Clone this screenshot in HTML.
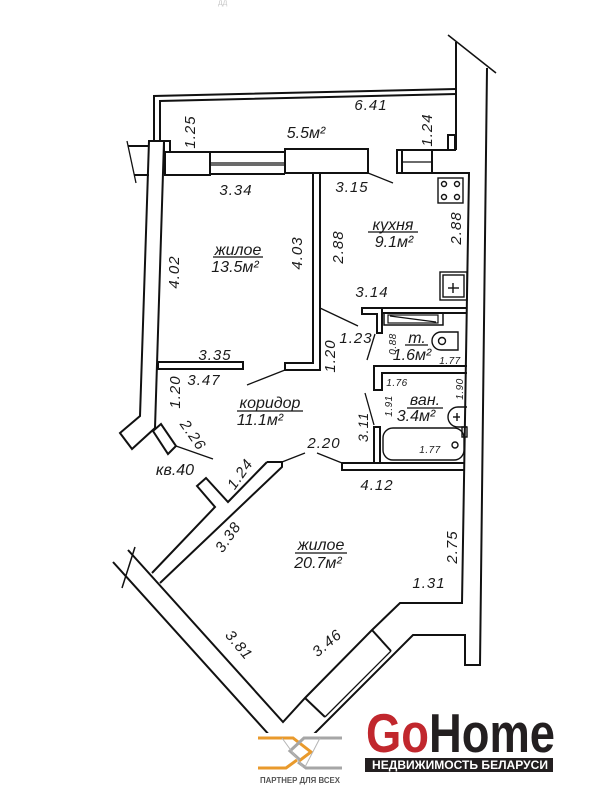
<!DOCTYPE html>
<html><head><meta charset="utf-8"><style>
html,body{margin:0;padding:0;background:#fff;}
svg{display:block;}
.d{font-family:"Liberation Sans","DejaVu Sans",sans-serif;font-style:italic;font-size:15px;letter-spacing:1px;fill:#1a1a1a;}
.s{font-family:"Liberation Sans","DejaVu Sans",sans-serif;font-style:italic;font-size:10px;letter-spacing:.5px;fill:#1a1a1a;}
.r{font-family:"Liberation Sans","DejaVu Sans",sans-serif;font-style:italic;font-size:16px;fill:#1a1a1a;}
</style></head><body>
<svg width="600" height="800" viewBox="0 0 600 800" xmlns="http://www.w3.org/2000/svg">
<rect width="600" height="800" fill="#fff"/>
<text x="218" y="5" font-family="Liberation Sans" font-size="8" fill="#c8c8c8">дд</text>
<g fill="none" stroke="#111" stroke-width="2" stroke-linejoin="miter">
 <!-- balcony -->
 <polyline points="154,141 154,96 456,89"/>
 <polyline points="160,141 160,101 456,94"/>
 <rect x="164" y="141" width="6" height="11"/>
 <rect x="448" y="135" width="7" height="15"/>
 <!-- right wall -->
 <line x1="456" y1="42" x2="456" y2="150"/>
 <line x1="448" y1="35" x2="496" y2="73" stroke-width="1.5"/>
 <polyline points="456,150 432,150 432,173 469,173 462,603 400,603 372,630 305,698 283,722 128,550"/>
 <polyline points="487,68 480,665 465,665 465,635 413,635 290,758"/>
 <line x1="113" y1="562" x2="290" y2="758"/>
 <line x1="135" y1="547" x2="122" y2="588" stroke-width="1.5"/>
 <!-- top wall with windows -->
 <rect x="165" y="152" width="45" height="23"/>
 <line x1="210" y1="152" x2="285" y2="152"/>
 <line x1="210" y1="163" x2="285" y2="163" stroke-width="1.2"/>
 <line x1="210" y1="165" x2="285" y2="165" stroke-width="1.2"/>
 <line x1="210" y1="174" x2="285" y2="174"/>
 <rect x="285" y="149" width="83" height="24"/>
 <rect x="397" y="150" width="5" height="23"/>
 <rect x="402" y="150" width="30" height="23"/>
 <line x1="402" y1="162" x2="432" y2="162" stroke-width="1.2"/>
 <!-- left wall -->
 <polygon points="149,141 164,141 155,428 132,449 120,433 140,416"/>
 <polygon points="153,431 161,424 176,446 168,454"/>
 <line x1="128" y1="146" x2="149" y2="146"/>
 <line x1="134" y1="175" x2="149" y2="175"/>
 <line x1="127" y1="141" x2="136" y2="183" stroke-width="1.3"/>
 <!-- bedroom right wall -->
 <polyline points="313,173 313,363 285,363 285,370 320,370 320,173"/>
 <rect x="158" y="362" width="85" height="7"/>
 <!-- kitchen bottom -->
 <polygon points="362,308 382,308 382,333 377,333 377,314 362,314"/>
 <line x1="382" y1="308" x2="467" y2="308"/>
 <line x1="382" y1="313" x2="467" y2="313"/>
 <rect x="384" y="313" width="59" height="12" stroke-width="1.5"/>
 <rect x="388" y="315" width="50" height="8" stroke-width="1.2"/>
 <line x1="390" y1="316" x2="436" y2="322" stroke-width="1.2"/>
 <!-- toilet/bath wall -->
 <polyline points="467,366 374,366 374,390 382,390 382,373 467,373"/>
 <rect x="374" y="427" width="6" height="36"/>
 <polyline points="465,463 342,463 342,470 464,470"/>
 <!-- corridor diagonal wall -->
 <polyline points="267,462 282,462 282,467 160,583"/>
 <polyline points="267,462 228,502 206,478 197,486 215,507 152,573"/>
 <!-- bay window -->
 <line x1="372" y1="630" x2="391" y2="651"/>
 <line x1="305" y1="698" x2="325" y2="717"/>
 <line x1="391" y1="651" x2="325" y2="717" stroke-width="1.3"/>
 <line x1="394" y1="654" x2="328" y2="720" stroke-width="1.3"/>
 <!-- door swings -->
 <g stroke-width="1.3">
  <line x1="368" y1="173" x2="393" y2="183"/>
  <line x1="320" y1="308" x2="358" y2="326"/>
  <line x1="367" y1="360" x2="375" y2="334"/>
  <line x1="365" y1="393" x2="374" y2="425"/>
  <line x1="247" y1="385" x2="285" y2="370"/>
  <line x1="176" y1="446" x2="213" y2="459"/>
  <line x1="282" y1="462" x2="305" y2="453"/>
  <line x1="317" y1="453" x2="342" y2="463"/>
 </g>
 <!-- fixtures -->
 <g stroke-width="1.4">
  <rect x="438" y="178" width="25" height="25"/>
  <circle cx="444" cy="184" r="2.5"/><circle cx="457" cy="184" r="2.5"/>
  <circle cx="444" cy="197" r="2.5"/><circle cx="457" cy="197" r="2.5"/>
  <rect x="440" y="272" width="27" height="28"/>
  <rect x="443" y="275" width="21" height="22"/>
  <line x1="448" y1="288" x2="459" y2="288"/><line x1="453" y1="283" x2="453" y2="293"/>
  <path d="M458,332 H441 A9,9 0 0 0 441,350 H458 Z"/>
  <circle cx="442" cy="341" r="3.5"/>
  <path d="M467,407 H458 A10,10 0 0 0 458,427 H467"/>
  <line x1="453" y1="417" x2="460" y2="417"/><line x1="457" y1="413" x2="457" y2="421"/>
  <rect x="462" y="427" width="5" height="10"/>
  <rect x="383" y="428" width="81" height="32" rx="10"/>
  <circle cx="455" cy="445" r="3"/>
 </g>
</g>

<!-- labels -->
<text class="d" x="371" y="110" text-anchor="middle">6.41</text>
<text class="r" x="306" y="138" text-anchor="middle">5.5м²</text>
<text class="d" transform="translate(190,132) rotate(-90)" text-anchor="middle" y="5">1.25</text>
<text class="d" transform="translate(427,130) rotate(-90)" text-anchor="middle" y="5">1.24</text>
<text class="d" x="236" y="195" text-anchor="middle">3.34</text>
<text class="d" x="352" y="192" text-anchor="middle">3.15</text>
<text class="r" x="393" y="230" text-anchor="middle">кухня</text>
<line x1="368" y1="232" x2="418" y2="232" stroke="#111" stroke-width="1.3"/>
<text class="r" x="394" y="247" text-anchor="middle">9.1м²</text>
<text class="d" transform="translate(338,247) rotate(-90)" text-anchor="middle" y="5">2.88</text>
<text class="d" transform="translate(456,228) rotate(-90)" text-anchor="middle" y="5">2.88</text>
<text class="d" x="372" y="297" text-anchor="middle">3.14</text>
<text class="r" x="238" y="255" text-anchor="middle">жилое</text>
<line x1="213" y1="257" x2="263" y2="257" stroke="#111" stroke-width="1.3"/>
<text class="r" x="235" y="272" text-anchor="middle">13.5м²</text>
<text class="d" transform="translate(174,272) rotate(-90)" text-anchor="middle" y="5">4.02</text>
<text class="d" transform="translate(297,253) rotate(-90)" text-anchor="middle" y="5">4.03</text>
<text class="d" x="215" y="360" text-anchor="middle">3.35</text>
<text class="d" x="204" y="385" text-anchor="middle">3.47</text>
<text class="d" transform="translate(175,392) rotate(-90)" text-anchor="middle" y="5">1.20</text>
<text class="d" transform="translate(330,356) rotate(-90)" text-anchor="middle" y="5">1.20</text>
<text class="d" x="356" y="343" text-anchor="middle">1.23</text>
<text class="s" transform="translate(392,344) rotate(-90)" text-anchor="middle" y="4">0.88</text>
<text class="r" x="417" y="343" text-anchor="middle">т.</text>
<line x1="405" y1="345" x2="428" y2="345" stroke="#111" stroke-width="1.2"/>
<text class="r" x="412" y="360" text-anchor="middle">1.6м²</text>
<text class="s" x="450" y="364" text-anchor="middle">1.77</text>
<text class="s" x="397" y="386" text-anchor="middle">1.76</text>
<text class="s" transform="translate(459,389) rotate(-90)" text-anchor="middle" y="4">1.90</text>
<text class="r" x="425" y="405" text-anchor="middle">ван.</text>
<line x1="407" y1="408" x2="443" y2="408" stroke="#111" stroke-width="1.2"/>
<text class="r" x="416" y="421" text-anchor="middle">3.4м²</text>
<text class="s" transform="translate(388,406) rotate(-90)" text-anchor="middle" y="4">1.91</text>
<text class="d" style="font-size:14px" transform="translate(363,427) rotate(-90)" text-anchor="middle" y="5">3.11</text>
<text class="s" x="430" y="453" text-anchor="middle">1.77</text>
<text class="r" x="270" y="408" text-anchor="middle">коридор</text>
<line x1="237" y1="411" x2="303" y2="411" stroke="#111" stroke-width="1.3"/>
<text class="r" x="260" y="425" text-anchor="middle">11.1м²</text>
<text class="d" transform="translate(193,435) rotate(55)" text-anchor="middle" y="5">2.26</text>
<text class="r" x="175" y="475" text-anchor="middle">кв.40</text>
<text class="d" x="324" y="448" text-anchor="middle">2.20</text>
<text class="d" transform="translate(240,474) rotate(-55)" text-anchor="middle" y="5">1.24</text>
<text class="d" transform="translate(228,537) rotate(-55)" text-anchor="middle" y="5">3.38</text>
<text class="d" x="377" y="490" text-anchor="middle">4.12</text>
<text class="r" x="321" y="550" text-anchor="middle">жилое</text>
<line x1="295" y1="553" x2="347" y2="553" stroke="#111" stroke-width="1.3"/>
<text class="r" x="318" y="568" text-anchor="middle">20.7м²</text>
<text class="d" transform="translate(452,547) rotate(-90)" text-anchor="middle" y="5">2.75</text>
<text class="d" x="429" y="588" text-anchor="middle">1.31</text>
<text class="d" transform="translate(239,645) rotate(50)" text-anchor="middle" y="5">3.81</text>
<text class="d" transform="translate(327,643) rotate(-40)" text-anchor="middle" y="5">3.46</text>

<!-- partner logo -->
<rect x="250" y="733" width="100" height="60" fill="#fff"/>
<g fill="none" stroke-width="3">
 <polyline stroke="#e99a2c" points="258,738 293,738 311,752 299,761"/>
 <polyline stroke="#e99a2c" points="258,768 286,768 297,760"/>
 <polyline stroke="#a6a6a6" points="342,738 304,738 290,751 300,760"/>
 <polyline stroke="#a6a6a6" points="342,768 306,768 298,762"/>
</g>
<line x1="282" y1="738" x2="303" y2="767" stroke="#b5b5b5" stroke-width="1"/>
<line x1="320" y1="738" x2="305" y2="767" stroke="#b5b5b5" stroke-width="1"/>
<text x="260" y="783" font-family="Liberation Sans" font-weight="bold" font-size="8" fill="#555" textLength="80" lengthAdjust="spacingAndGlyphs">ПАРТНЕР ДЛЯ ВСЕХ</text>

<!-- GoHome -->
<text x="366" y="752" font-family="Liberation Sans" font-weight="bold" font-size="55" textLength="189" lengthAdjust="spacingAndGlyphs"><tspan fill="#c1272d">Go</tspan><tspan fill="#231f20">Home</tspan></text>
<rect x="365" y="758" width="188" height="14" fill="#231f20"/>
<text x="372" y="769" font-family="Liberation Sans" font-weight="bold" font-size="12" fill="#fff" textLength="176" lengthAdjust="spacingAndGlyphs">НЕДВИЖИМОСТЬ БЕЛАРУСИ</text>
</svg>
</body></html>
